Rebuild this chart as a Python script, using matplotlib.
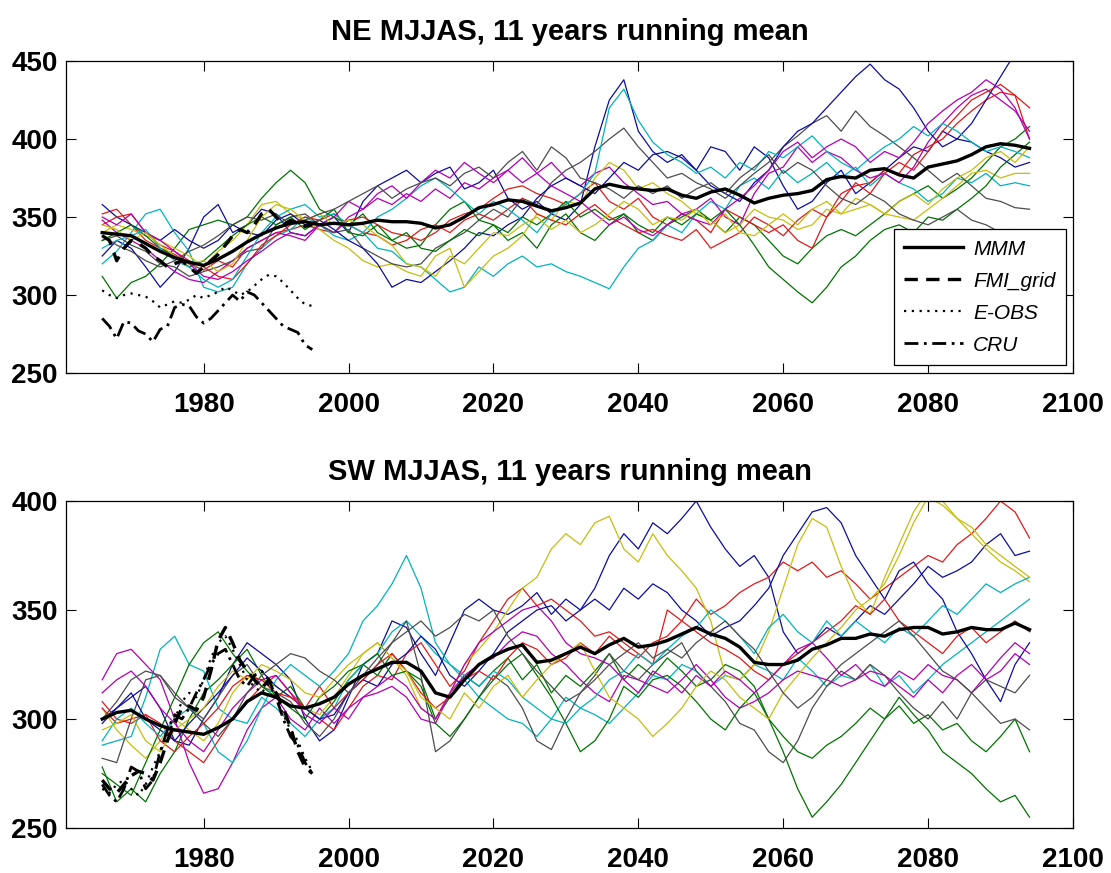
import matplotlib.pyplot as plt
import numpy as np

plt.rcParams['font.family'] = ['Liberation Sans', 'DejaVu Sans']
plt.rcParams['font.weight'] = 'bold'

# model years (every 2nd year of the 11-yr running mean), obs years
years = np.arange(1966, 2095, 2)
obs_years = np.arange(1966, 1996)

# ---------------- NE MJJAS ----------------
ne_mmm = [340, 339, 338, 333, 328, 324, 321, 319, 323, 328, 334, 339, 343,
          346, 347, 345, 346, 345, 346, 348, 347, 347, 346, 343, 345, 350,
          356, 358, 361, 360, 357, 354, 356, 359, 368, 371, 369, 368, 367,
          368, 364, 362, 366, 368, 364, 359, 362, 364, 365, 367, 374, 376,
          375, 380, 381, 377, 375, 382, 384, 386, 390, 395, 397, 396, 394]

ne_run01 = [325, 335, 330, 318, 305, 315, 330, 350, 358, 340, 345, 355, 352,
            340, 338, 345, 350, 340, 360, 370, 375, 380, 372, 378, 382, 368,
            372, 380, 362, 355, 360, 352, 348, 358, 395, 425, 438, 405, 392,
            385, 390, 380, 395, 392, 380, 395, 388, 370, 355, 360, 372, 380,
            365, 372, 380, 388, 395, 392, 405, 400, 398, 392, 388, 382, 385]
ne_run02 = [312, 298, 308, 312, 320, 330, 342, 345, 348, 345, 350, 362, 372,
            380, 372, 355, 350, 345, 352, 340, 335, 330, 332, 345, 355, 360,
            348, 345, 335, 340, 330, 345, 352, 340, 335, 345, 352, 340, 335,
            345, 350, 355, 348, 340, 350, 345, 335, 325, 320, 330, 338, 342,
            338, 345, 352, 360, 365, 370, 362, 368, 375, 385, 395, 400, 408]
ne_run03 = [352, 355, 345, 335, 330, 326, 320, 316, 322, 318, 330, 335, 340,
            342, 345, 342, 340, 348, 350, 345, 340, 338, 335, 340, 348, 352,
            355, 362, 368, 370, 365, 362, 358, 365, 372, 360, 355, 362, 350,
            345, 352, 348, 340, 355, 350, 345, 340, 345, 335, 330, 350, 365,
            370, 372, 380, 378, 390, 395, 400, 410, 418, 425, 430, 428, 400]
ne_run04 = [320, 328, 340, 352, 355, 340, 328, 305, 302, 305, 320, 330, 338,
            342, 350, 345, 338, 335, 340, 330, 328, 320, 318, 310, 302, 305,
            318, 312, 320, 325, 318, 320, 315, 312, 308, 304, 318, 330, 335,
            345, 340, 352, 360, 355, 370, 375, 368, 380, 372, 378, 385, 375,
            382, 370, 378, 372, 368, 360, 365, 375, 372, 378, 370, 372, 370]
ne_run05 = [348, 340, 335, 330, 322, 315, 310, 308, 315, 322, 330, 335, 340,
            338, 335, 345, 340, 350, 355, 362, 358, 365, 360, 368, 362, 372,
            368, 375, 380, 372, 378, 385, 375, 370, 378, 382, 372, 365, 358,
            360, 352, 355, 362, 350, 345, 365, 378, 382, 395, 385, 392, 388,
            380, 375, 378, 372, 382, 398, 410, 420, 428, 432, 425, 418, 405]
ne_run06 = [340, 345, 342, 338, 335, 330, 325, 318, 328, 335, 345, 358, 360,
            352, 348, 342, 335, 330, 322, 318, 320, 315, 312, 325, 330, 305,
            315, 325, 330, 338, 352, 348, 360, 358, 375, 385, 380, 368, 372,
            365, 360, 352, 348, 340, 345, 355, 350, 348, 342, 345, 355, 352,
            355, 358, 352, 350, 348, 355, 362, 370, 378, 380, 375, 378, 378]
ne_run07 = [335, 338, 332, 328, 320, 318, 312, 315, 318, 322, 328, 330, 345,
            350, 352, 345, 340, 342, 330, 325, 320, 318, 320, 330, 335, 340,
            348, 355, 350, 362, 358, 372, 380, 385, 392, 400, 407, 395, 385,
            375, 378, 372, 368, 362, 370, 378, 385, 395, 402, 410, 415, 405,
            418, 408, 402, 395, 388, 380, 372, 378, 370, 362, 360, 356, 355]
ne_run08 = [358, 350, 345, 340, 335, 342, 335, 330, 335, 345, 340, 338, 348,
            352, 345, 348, 342, 335, 330, 320, 305, 310, 308, 315, 322, 330,
            340, 338, 345, 350, 362, 370, 375, 370, 365, 375, 385, 380, 390,
            392, 388, 380, 370, 365, 360, 372, 380, 395, 405, 410, 420, 430,
            440, 448, 438, 432, 420, 405, 395, 400, 410, 425, 440, 455, 460]
ne_run09 = [335, 340, 345, 338, 330, 325, 318, 322, 330, 338, 345, 350, 345,
            350, 342, 348, 355, 340, 338, 345, 335, 340, 330, 328, 335, 342,
            338, 345, 340, 350, 345, 352, 360, 350, 355, 348, 352, 345, 340,
            350, 345, 352, 348, 355, 345, 332, 318, 310, 302, 295, 305, 318,
            325, 335, 342, 345, 340, 350, 348, 355, 362, 370, 382, 390, 398]
ne_run10 = [345, 350, 352, 340, 332, 328, 322, 318, 312, 310, 320, 332, 338,
            345, 350, 348, 352, 345, 340, 338, 332, 335, 342, 345, 340, 348,
            352, 348, 355, 362, 352, 348, 345, 352, 358, 350, 345, 340, 342,
            338, 335, 342, 330, 335, 340, 350, 345, 338, 348, 355, 350, 360,
            372, 365, 378, 385, 380, 392, 405, 415, 425, 430, 435, 428, 420]
ne_run11 = [330, 335, 338, 342, 330, 322, 318, 310, 305, 310, 325, 340, 350,
            355, 358, 350, 352, 345, 340, 350, 355, 362, 370, 375, 368, 360,
            352, 360, 355, 348, 340, 352, 358, 365, 378, 420, 432, 412, 398,
            390, 385, 378, 382, 375, 385, 380, 392, 388, 395, 402, 392, 385,
            380, 388, 395, 400, 408, 402, 410, 405, 398, 392, 395, 392, 388]
ne_run12 = [350, 345, 352, 340, 335, 328, 320, 312, 310, 315, 322, 328, 335,
            340, 338, 345, 350, 360, 355, 365, 370, 362, 372, 380, 375, 385,
            378, 372, 380, 388, 378, 370, 365, 360, 352, 345, 350, 342, 338,
            345, 352, 348, 345, 355, 362, 370, 380, 392, 398, 388, 395, 400,
            395, 385, 392, 388, 398, 410, 418, 425, 430, 438, 432, 420, 400]
ne_run13 = [345, 342, 335, 340, 332, 325, 320, 322, 315, 320, 335, 350, 358,
            355, 348, 352, 345, 348, 345, 338, 332, 320, 318, 312, 325, 320,
            330, 340, 338, 345, 350, 342, 348, 340, 345, 352, 360, 355, 345,
            350, 348, 355, 345, 352, 340, 338, 345, 352, 345, 355, 360, 352,
            362, 358, 352, 360, 365, 358, 368, 375, 380, 388, 392, 385, 395]
ne_run14 = [338, 332, 328, 322, 318, 322, 328, 332, 338, 345, 350, 348, 352,
            345, 348, 352, 355, 360, 365, 370, 362, 368, 372, 375, 370, 378,
            382, 375, 385, 392, 380, 395, 388, 375, 372, 368, 362, 370, 365,
            370, 362, 368, 372, 365, 375, 382, 390, 378, 385, 380, 370, 362,
            358, 365, 360, 352, 348, 345, 350, 355, 348, 345, 340, 342, 338]

ne_fmi = [338, 335, 322, 330, 335, 333, 330, 325, 322, 318, 320, 322, 318, 314, 318,
          322, 326, 332, 338, 342, 340, 345, 352, 355, 350, 345, 348, 346, 344, 345]
ne_eobs = [303, 300, 298, 300, 301, 300, 299, 296, 292, 294, 296, 295, 297, 300, 298,
           300, 302, 305, 303, 300, 302, 306, 310, 313, 312, 308, 303, 298, 294, 293]
ne_cru = [285, 280, 272, 283, 282, 277, 275, 270, 278, 280, 292, 294, 293, 286, 282,
          285, 290, 295, 300, 296, 302, 300, 295, 290, 285, 280, 278, 276, 268, 265]

# ---------------- SW MJJAS ----------------
sw_mmm = [300, 303, 304, 300, 297, 295, 294, 293, 296, 300, 308, 312, 310,
          306, 305, 307, 310, 316, 320, 323, 326, 326, 322, 312, 310, 318,
          325, 329, 332, 334, 326, 327, 330, 333, 330, 334, 337, 333, 334,
          336, 339, 342, 339, 337, 333, 326, 325, 325, 327, 332, 334, 337,
          337, 339, 338, 341, 342, 342, 339, 340, 342, 341, 341, 344, 341]

sw_run01 = [300, 305, 310, 315, 305, 290, 288, 300, 310, 325, 335, 330, 325,
            318, 300, 290, 295, 310, 325, 330, 345, 342, 330, 320, 335, 350,
            355, 350, 348, 352, 358, 348, 355, 350, 360, 375, 385, 378, 390,
            385, 392, 400, 388, 378, 370, 375, 365, 340, 330, 335, 342, 338,
            345, 352, 348, 355, 362, 370, 365, 368, 372, 380, 385, 375, 377]
sw_run02 = [278, 262, 268, 262, 275, 285, 300, 312, 318, 325, 332, 320, 310,
            315, 305, 300, 308, 318, 325, 320, 330, 322, 318, 300, 310, 320,
            315, 322, 328, 318, 325, 312, 320, 315, 322, 330, 318, 325, 320,
            328, 322, 315, 318, 325, 322, 315, 300, 285, 268, 255, 262, 270,
            280, 290, 300, 306, 298, 302, 295, 298, 290, 285, 292, 300, 285]
sw_run03 = [308, 300, 298, 302, 298, 290, 285, 280, 290, 300, 308, 315, 320,
            312, 305, 300, 295, 305, 315, 320, 318, 330, 335, 325, 315, 322,
            335, 345, 355, 360, 352, 355, 350, 345, 338, 340, 335, 330, 325,
            350, 345, 355, 348, 352, 358, 362, 365, 372, 368, 372, 365, 368,
            362, 355, 360, 365, 370, 375, 372, 380, 385, 392, 400, 395, 383]
sw_run04 = [288, 290, 292, 310, 332, 338, 325, 322, 305, 300, 298, 310, 305,
            298, 292, 300, 305, 318, 325, 330, 340, 345, 338, 330, 325, 318,
            310, 305, 300, 298, 292, 300, 310, 305, 302, 298, 305, 312, 320,
            318, 325, 322, 315, 320, 318, 325, 322, 318, 328, 322, 315, 320,
            318, 325, 315, 320, 312, 318, 325, 330, 335, 340, 345, 350, 355]
sw_run05 = [318, 330, 332, 325, 318, 300, 280, 266, 268, 280, 295, 305, 310,
            300, 295, 305, 298, 305, 310, 312, 315, 310, 300, 298, 312, 320,
            325, 328, 335, 340, 338, 330, 325, 318, 312, 308, 320, 318, 315,
            312, 318, 325, 318, 310, 305, 308, 312, 318, 322, 320, 318, 315,
            318, 322, 320, 315, 310, 318, 312, 320, 325, 318, 322, 330, 325]
sw_run06 = [305, 295, 288, 282, 290, 300, 295, 290, 298, 312, 320, 318, 315,
            310, 305, 302, 310, 320, 330, 335, 328, 320, 305, 300, 312, 325,
            332, 340, 350, 360, 365, 378, 385, 380, 390, 393, 378, 372, 385,
            375, 368, 360, 345, 320, 318, 325, 340, 360, 380, 392, 388, 370,
            355, 348, 365, 380, 395, 405, 400, 392, 385, 378, 372, 368, 363]
sw_run07 = [282, 280, 300, 318, 320, 312, 305, 300, 310, 320, 325, 315, 312,
            308, 298, 292, 300, 312, 318, 325, 335, 345, 320, 285, 290, 300,
            310, 320, 315, 305, 290, 286, 300, 312, 320, 330, 322, 318, 325,
            330, 335, 322, 315, 308, 298, 295, 285, 280, 290, 305, 315, 322,
            318, 325, 320, 312, 305, 300, 308, 300, 312, 305, 298, 300, 295]
sw_run08 = [298, 305, 312, 300, 295, 290, 298, 305, 312, 320, 328, 322, 315,
            310, 305, 300, 302, 312, 318, 315, 325, 330, 338, 332, 320, 315,
            322, 330, 340, 345, 350, 352, 345, 350, 355, 350, 360, 355, 362,
            358, 350, 345, 338, 342, 345, 352, 360, 375, 385, 395, 397, 390,
            375, 365, 355, 368, 372, 362, 355, 340, 330, 318, 308, 325, 335]
sw_run09 = [275, 270, 265, 280, 295, 310, 325, 335, 340, 330, 322, 315, 310,
            305, 300, 310, 315, 322, 325, 330, 320, 322, 315, 298, 292, 300,
            310, 318, 325, 330, 320, 310, 298, 285, 290, 300, 315, 310, 318,
            320, 315, 308, 300, 295, 305, 312, 300, 292, 285, 282, 288, 292,
            298, 305, 300, 310, 302, 295, 285, 280, 275, 268, 262, 265, 255]
sw_run10 = [305, 298, 300, 302, 290, 285, 292, 298, 305, 315, 320, 318, 312,
            310, 305, 315, 305, 312, 318, 325, 330, 322, 312, 305, 310, 318,
            322, 318, 328, 335, 332, 325, 328, 335, 330, 338, 332, 328, 335,
            338, 345, 340, 335, 332, 328, 322, 318, 325, 330, 335, 340, 345,
            352, 348, 355, 345, 340, 335, 330, 338, 342, 335, 340, 345, 340]
sw_run11 = [290, 300, 305, 298, 292, 300, 305, 298, 285, 280, 290, 305, 318,
            325, 320, 315, 322, 330, 345, 352, 362, 375, 360, 335, 325, 320,
            315, 322, 318, 310, 305, 300, 298, 305, 310, 318, 322, 330, 325,
            332, 338, 342, 350, 345, 338, 330, 342, 348, 340, 335, 345, 338,
            345, 340, 335, 342, 338, 345, 352, 348, 355, 362, 358, 362, 365]
sw_run12 = [312, 318, 322, 315, 305, 298, 290, 285, 295, 305, 312, 318, 320,
            312, 302, 298, 305, 300, 310, 315, 320, 315, 305, 300, 312, 325,
            335, 340, 345, 350, 352, 345, 335, 330, 328, 325, 318, 312, 322,
            318, 312, 320, 315, 322, 318, 312, 318, 325, 332, 335, 328, 320,
            325, 318, 315, 322, 318, 325, 320, 318, 312, 320, 328, 335, 330]
sw_run13 = [295, 298, 302, 290, 285, 295, 300, 305, 315, 322, 318, 325, 322,
            318, 312, 310, 318, 325, 330, 335, 328, 322, 310, 305, 300, 312,
            305, 315, 320, 310, 318, 325, 330, 335, 322, 310, 305, 300, 292,
            298, 305, 315, 322, 318, 310, 305, 300, 312, 320, 328, 335, 342,
            350, 355, 362, 375, 390, 402, 398, 392, 388, 380, 375, 370, 365]
sw_run14 = [300, 308, 318, 322, 320, 310, 305, 298, 292, 300, 312, 320, 325,
            330, 328, 322, 318, 312, 320, 328, 335, 340, 345, 338, 342, 348,
            345, 350, 338, 330, 322, 315, 308, 312, 318, 325, 330, 335, 328,
            332, 328, 335, 340, 345, 338, 332, 322, 312, 305, 310, 318, 325,
            330, 335, 340, 345, 338, 330, 322, 318, 312, 318, 315, 312, 320]

sw_fmi = [272, 268, 266, 270, 274, 276, 275, 272, 280, 290, 298, 305, 306, 304, 310,
          322, 336, 342, 335, 327, 322, 318, 314, 318, 312, 305, 296, 285, 278, 275]
sw_eobs = [268, 266, 270, 272, 268, 265, 270, 278, 285, 292, 300, 308, 312, 310, 318,
           328, 335, 338, 332, 325, 318, 315, 312, 316, 310, 302, 295, 290, 282, 276]
sw_cru = [270, 265, 262, 268, 278, 276, 268, 272, 285, 295, 302, 300, 305, 312, 318,
          325, 330, 332, 325, 318, 315, 320, 322, 318, 310, 300, 292, 288, 280, 275]

ne_runs = [ne_run01, ne_run02, ne_run03, ne_run04, ne_run05, ne_run06, ne_run07,
           ne_run08, ne_run09, ne_run10, ne_run11, ne_run12, ne_run13, ne_run14]
sw_runs = [sw_run01, sw_run02, sw_run03, sw_run04, sw_run05, sw_run06, sw_run07,
           sw_run08, sw_run09, sw_run10, sw_run11, sw_run12, sw_run13, sw_run14]

# matlab-like colour order, a bit darker like the jpeg
colores = [(0.05, 0.05, 0.62), (0.0, 0.45, 0.0), (0.88, 0.1, 0.1), (0.0, 0.7, 0.75),
           (0.7, 0.0, 0.7), (0.78, 0.74, 0.05), (0.3, 0.3, 0.3)]

fig = plt.figure(figsize=(11.11, 8.73), dpi=100)
ax1 = fig.add_axes([0.0594, 0.5727, 0.9064, 0.3574])
ax2 = fig.add_axes([0.0594, 0.0515, 0.9064, 0.3746])


def dibujar(ax, runs, mmm, fmi, eobs, cru, titulo, ylim, yticks):
    for k, serie in enumerate(runs):
        ax.plot(years, serie, color=colores[k % 7], lw=0.9)
    ax.plot(years, mmm, color='k', lw=2.4, label='MMM')
    ax.plot(obs_years, fmi, color='k', lw=2.4, ls=(0, (4, 2.5)), label='FMI_grid')
    ax.plot(obs_years, eobs, color='k', lw=1.6, ls=(0, (1, 2.5)), label='E-OBS')
    ax.plot(obs_years, cru, color='k', lw=2.0, ls=(0, (5, 2, 1, 2)), label='CRU')
    ax.set_xlim(1961, 2100)
    ax.set_ylim(*ylim)
    ax.set_xticks([1980, 2000, 2020, 2040, 2060, 2080, 2100])
    ax.set_yticks(yticks)
    ax.tick_params(axis='both', direction='in', top=True, right=True,
                   length=7, width=0.8, labelsize=20)
    ax.tick_params(axis='x', pad=14)
    ax.tick_params(axis='y', pad=6)
    for s in ax.spines.values():
        s.set_linewidth(0.9)
    ax.set_title(titulo, fontsize=21, fontweight='bold', pad=15)


dibujar(ax1, ne_runs, ne_mmm, ne_fmi, ne_eobs, ne_cru,
        'NE MJJAS, 11 years running mean', (250, 450), [250, 300, 350, 400, 450])
dibujar(ax2, sw_runs, sw_mmm, sw_fmi, sw_eobs, sw_cru,
        'SW MJJAS, 11 years running mean', (250, 400), [250, 300, 350, 400])

leg = ax1.legend(loc='lower right', bbox_to_anchor=(0.993, 0.026), borderaxespad=0,
                 prop={'style': 'italic', 'weight': 'normal', 'size': 15},
                 handlelength=2.8, handletextpad=0.5, labelspacing=0.62,
                 borderpad=0.5, fancybox=False, edgecolor='k', framealpha=1)
leg.get_frame().set_linewidth(0.9)

plt.savefig('out.png', dpi=100)
